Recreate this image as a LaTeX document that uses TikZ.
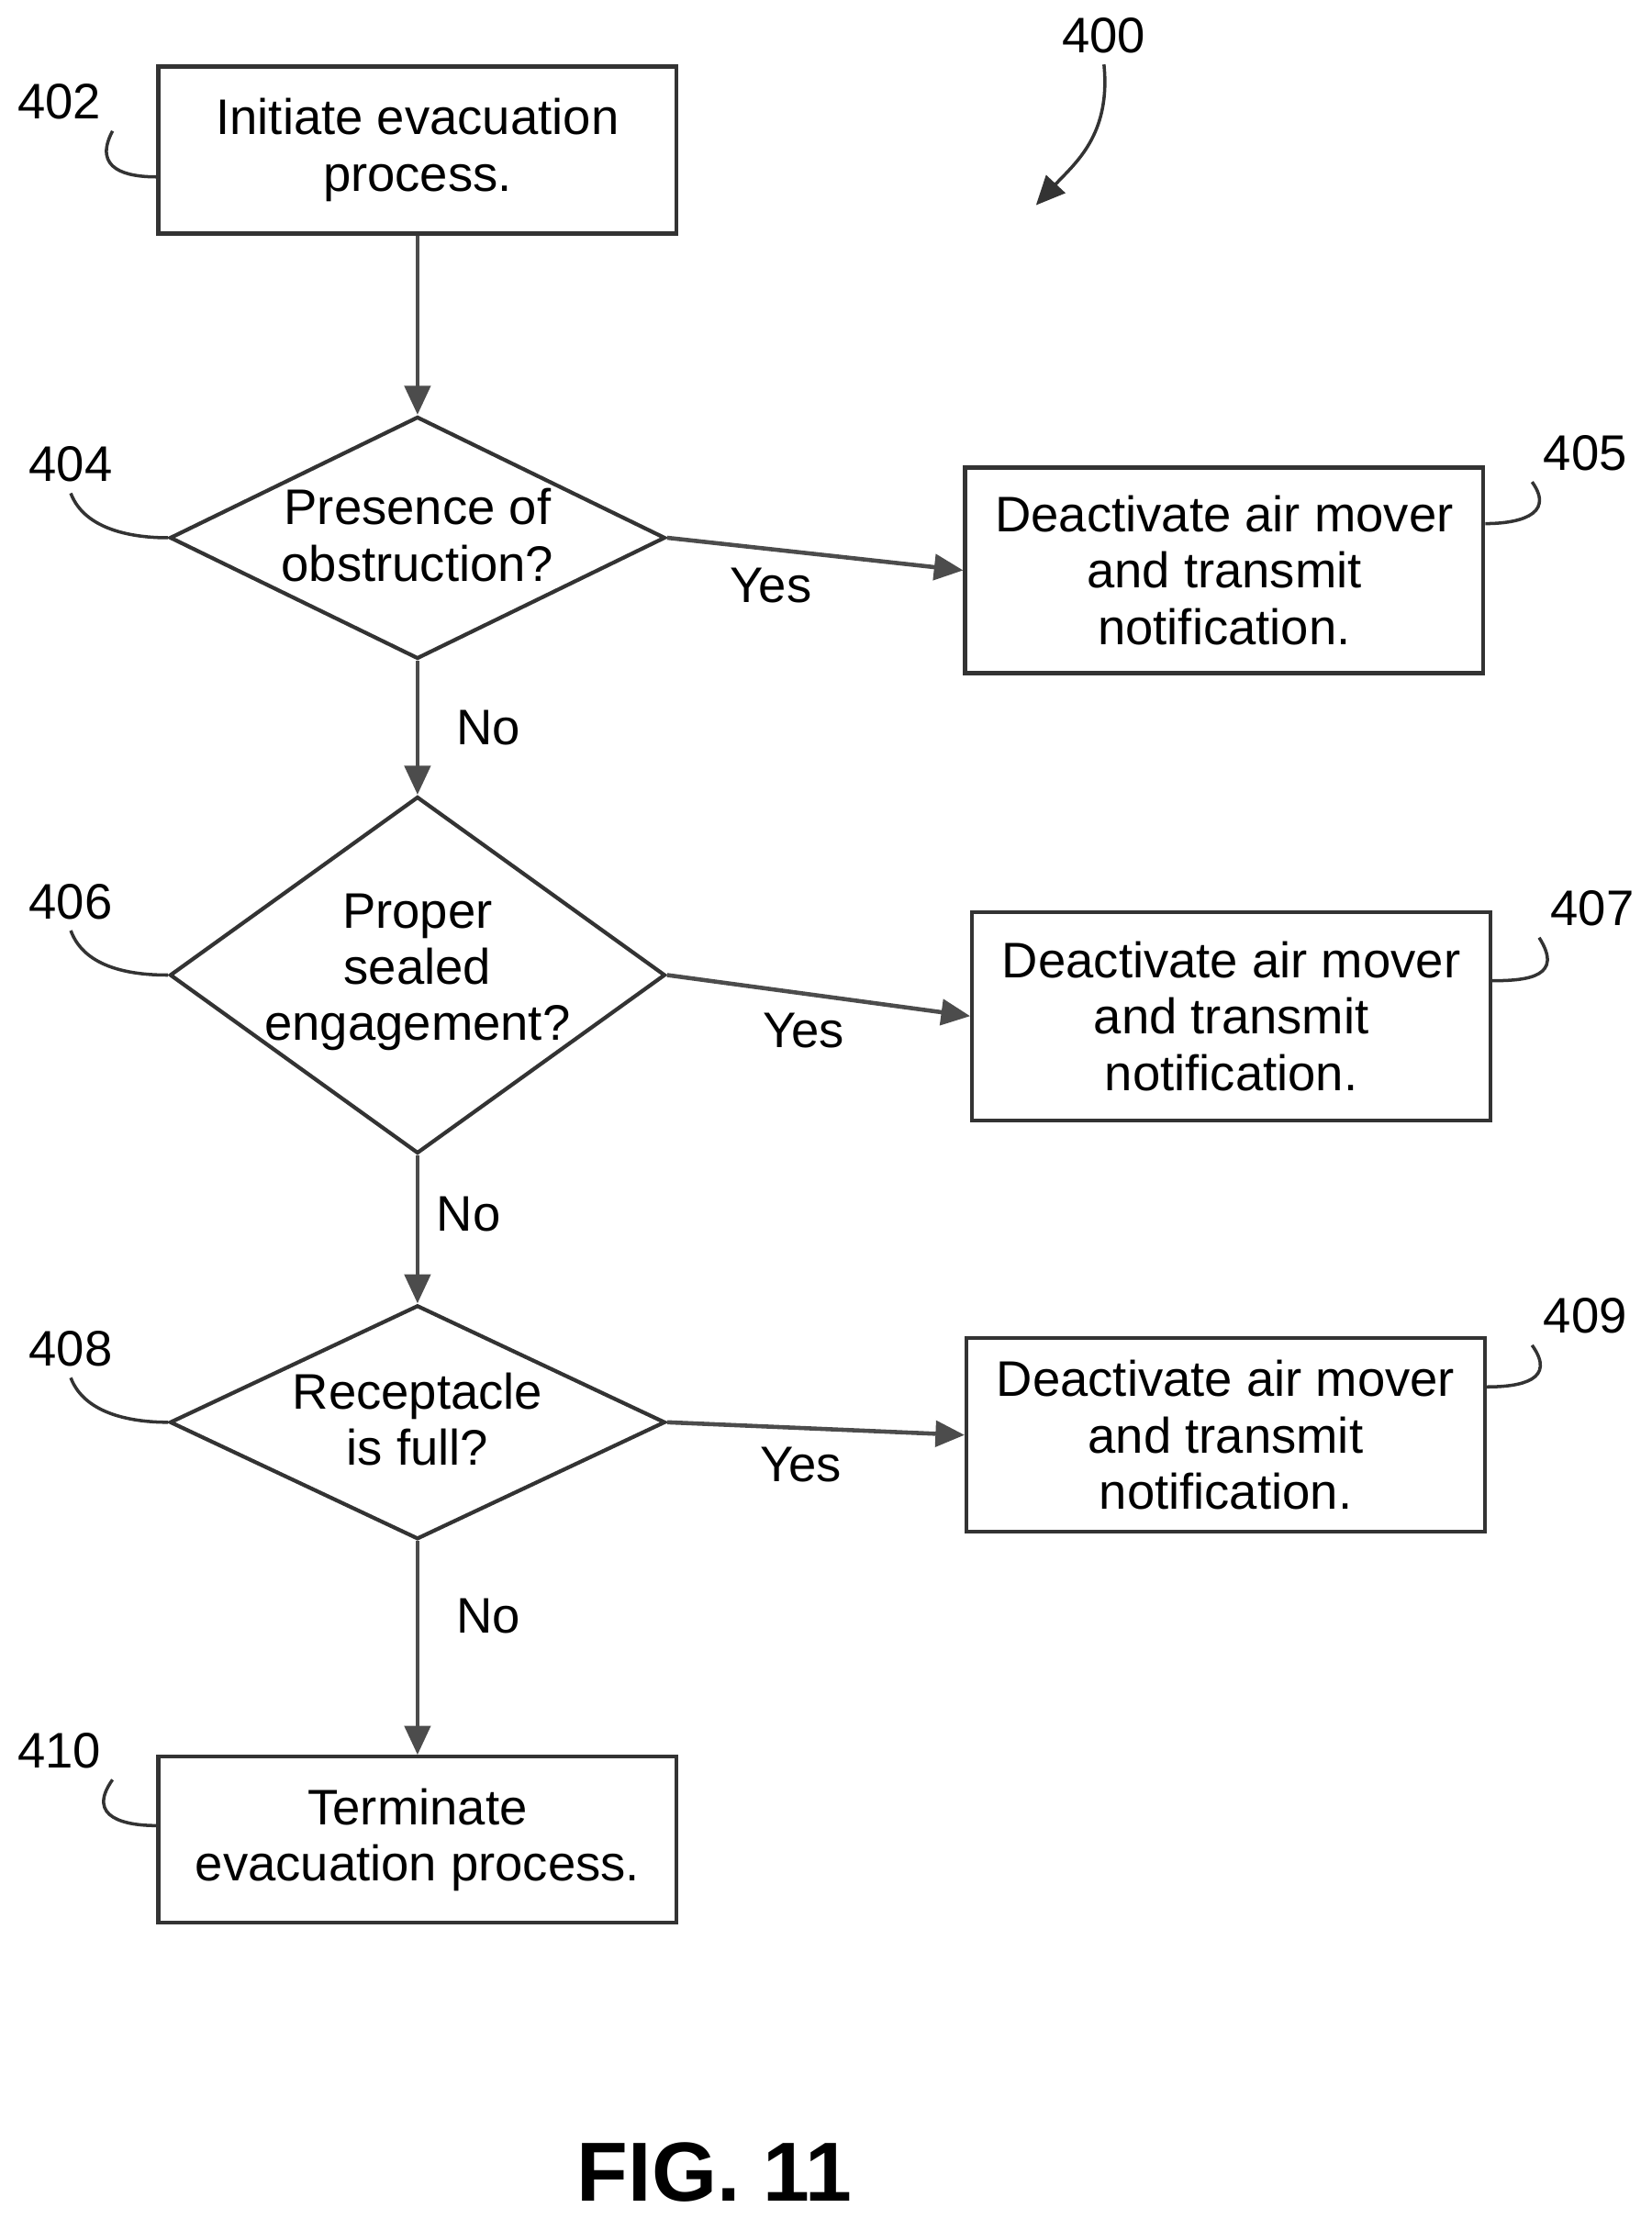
\documentclass[tikz,border=0pt]{standalone}
\usepackage{fontspec}
\setmainfont{Liberation Sans}
\usetikzlibrary{arrows.meta,positioning,shapes.geometric}

\begin{document}
\begin{tikzpicture}[
        x=0.01543cm, y=-0.01543cm,
        every node/.style={font=\fontsize{15.5}{17.5}\selectfont},
        process/.style={
            rectangle,
            draw=black!80,
            line width=1.2pt,
            minimum width=5.65cm,
            text centered,
            align=center
        },
        decision/.style={
            diamond,
            draw=black!80,
            line width=1.2pt,
            inner sep=0pt,
            minimum width=5.4cm
        },
        arrow/.style={-{Triangle[length=9pt,width=8pt]}, draw=black!70, line width=1.3pt},
        lead/.style={draw=black!80, line width=1pt}
    ]
        \useasboundingbox (0,0) rectangle (1167,1568);

        % Process boxes
        \node[process, minimum height=1.82cm] (init) at (295,106) {Initiate evacuation\\process.};
        \node[process, minimum height=2.24cm] (stop1) at (865,403) {Deactivate air mover\\and transmit\\notification.};
        \node[process, minimum height=2.27cm] (stop2) at (870,718) {Deactivate air mover\\and transmit\\notification.};
        \node[process, minimum height=2.11cm] (stop3) at (866,1014) {Deactivate air mover\\and transmit\\notification.};
        \node[process, minimum height=1.81cm] (term) at (295,1300) {Terminate\\evacuation process.};

        % Decision nodes
        \node[decision, minimum height=2.64cm] (obstr) at (295,380) {};
        \node[align=center] (obstrtxt) at (295,378) {Presence of\\obstruction?};
        \node[decision, minimum height=3.89cm] (seal) at (295,689) {};
        \node[align=center] (sealtxt) at (295,687) {Proper\\sealed\\engagement?};
        \node[decision, minimum height=2.55cm] (full) at (295,1005) {};
        \node[align=center] (fulltxt) at (295,1003) {Receptacle\\is full?};

        % Flow lines
        \draw[arrow] (init.south) -- (obstr.north);
        \draw[arrow] (obstr.south) -- node[right, xshift=8pt] {No} (seal.north);
        \draw[arrow] (seal.south) -- node[right, xshift=2pt, pos=0.4] {No} (full.north);
        \draw[arrow] (full.south) -- node[right, xshift=8pt, pos=0.35] {No} (term.north);
        \draw[arrow] (obstr.east) -- node[below, pos=0.35, yshift=-2pt] {Yes} (stop1.west);
        \draw[arrow] (seal.east) -- node[below, pos=0.45, yshift=-2pt] {Yes} (stop2.west);
        \draw[arrow] (full.east) -- node[below, pos=0.45, yshift=-2pt] {Yes} (stop3.west);

        % Reference numerals
        \node (n400) at (780,25) {400};
        \node (n402) at (42,72) {402};
        \node (n404) at (50,328) {404};
        \node (n405) at (1120,320) {405};
        \node (n406) at (50,637) {406};
        \node (n407) at (1125,642) {407};
        \node (n408) at (50,953) {408};
        \node (n409) at (1120,930) {409};
        \node (n410) at (42,1237) {410};
        \node[font=\bfseries\fontsize{26}{30}\selectfont] (fig) at (505,1535) {FIG. 11};

        % Lead lines
        \coordinate (tip400) at (732,145);
        \draw[arrow, draw=black!80, line width=1pt] (n400.south) .. controls (785,95) and (760,115) .. (tip400);
        \draw[lead] (n402.south east) .. controls (65,120) and (90,125) .. (init.west |- 0,125);
        \draw[lead] (n404.south) .. controls (60,375) and (95,380) .. (obstr.west);
        \draw[lead] (n405.south west) .. controls (1100,365) and (1070,370) .. (stop1.east |- 0,370);
        \draw[lead] (n406.south) .. controls (60,685) and (95,689) .. (seal.west);
        \draw[lead] (n407.south west) .. controls (1105,690) and (1080,693) .. (stop2.east |- 0,693);
        \draw[lead] (n408.south) .. controls (60,1000) and (95,1005) .. (full.west);
        \draw[lead] (n409.south west) .. controls (1100,975) and (1075,980) .. (stop3.east |- 0,980);
        \draw[lead] (n410.south east) .. controls (60,1285) and (90,1290) .. (term.west |- 0,1290);
    \end{tikzpicture}
\end{document}
